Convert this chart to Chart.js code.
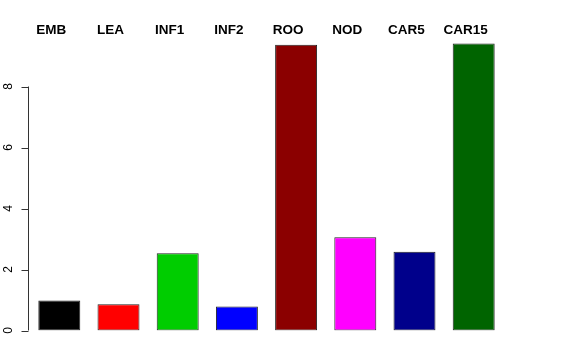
<!DOCTYPE html>
<html>
<head>
<meta charset="utf-8">
<script src="https://cdn.jsdelivr.net/npm/chart.js@4.4.0/dist/chart.umd.min.js"></script>
<style>
  html, body { margin: 0; padding: 0; background: #fff; }
  canvas { display: block; }
</style>
</head>
<body>
<canvas id="chart" width="576" height="360"></canvas>
<script>
// categories and values
const categories = ['EMB', 'LEA', 'INF1', 'INF2', 'ROO', 'NOD', 'CAR5', 'CAR15'];
const values = [0.98, 0.86, 2.53, 0.79, 9.37, 3.06, 2.58, 9.41];
const barColors = ['#000000', '#ff0000', '#00cd00', '#0000ff', '#8b0000', '#ff00ff', '#00008b', '#006400'];
const yTicks = [0, 2, 4, 6, 8];

// R style left axis: line only over the tick range, rotated labels
const rAxis = {
  id: 'rAxis',
  afterDraw(chart) {
    const ctx = chart.ctx;
    const y = chart.scales.y;
    const x0 = 28.5;
    ctx.save();
    ctx.strokeStyle = '#333';
    ctx.lineWidth = 1;
    ctx.beginPath();
    ctx.moveTo(x0, y.getPixelForValue(yTicks[0]));
    ctx.lineTo(x0, y.getPixelForValue(yTicks[yTicks.length - 1]));
    yTicks.forEach(t => {
      const py = Math.round(y.getPixelForValue(t)) + 0.5;
      ctx.moveTo(x0, py);
      ctx.lineTo(x0 - 7, py);
    });
    ctx.stroke();
    ctx.fillStyle = '#000';
    ctx.font = '12px "Liberation Sans", Arial, sans-serif';
    ctx.textAlign = 'center';
    ctx.textBaseline = 'middle';
    yTicks.forEach(t => {
      ctx.save();
      ctx.translate(8.5, y.getPixelForValue(t));
      ctx.rotate(-Math.PI / 2);
      ctx.fillText(String(t), 0, 0);
      ctx.restore();
    });
    ctx.restore();
  }
};

// bold names above the bars
const topLabels = {
  id: 'topLabels',
  afterDraw(chart) {
    const ctx = chart.ctx;
    const x = chart.scales.x;
    ctx.save();
    ctx.fillStyle = '#000';
    ctx.font = 'bold 13.5px "Liberation Sans", Arial, sans-serif';
    ctx.textAlign = 'center';
    ctx.textBaseline = 'middle';
    categories.forEach((c, i) => {
      ctx.fillText(c, x.getPixelForValue(i) - 8, 30);
    });
    ctx.restore();
  }
};

new Chart(document.getElementById('chart'), {
  type: 'bar',
  plugins: [rAxis, topLabels],
  data: {
    labels: categories,
    datasets: [{
      data: values,
      backgroundColor: barColors,
      borderColor: '#222',
      borderWidth: 1,
      borderSkipped: false,
      categoryPercentage: 1,
      barPercentage: 0.709
    }]
  },
  options: {
    responsive: false,
    devicePixelRatio: 1,
    animation: false,
    layout: { padding: { left: 29.7, right: 72.7, top: 37.7, bottom: 29.5 } },
    plugins: { legend: { display: false }, tooltip: { enabled: false } },
    scales: {
      x: { display: false },
      y: { display: false, min: 0, max: 9.6 }
    }
  }
});
</script>
</body>
</html>
